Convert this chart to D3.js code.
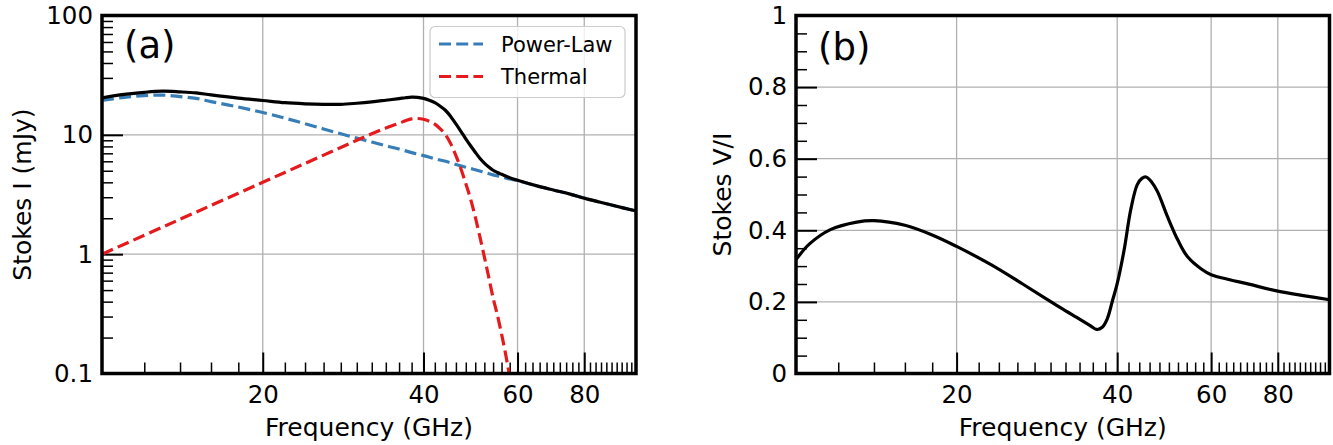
<!DOCTYPE html>
<html><head><meta charset="utf-8">
<script src="https://cdn.jsdelivr.net/npm/d3@7"></script>
<style>body{margin:0;background:#fff} text{font-family:"DejaVu Sans",sans-serif;fill:#000}</style>
</head><body><svg id="c" width="1333" height="445"></svg>
<script>
// ---------- data ----------
const plFreq = [10, 11, 12, 13, 14, 15, 16, 18, 20, 22, 24, 26, 28, 30, 32, 34, 36, 38, 40, 42, 44, 46, 48, 50, 52, 54, 56, 58, 60, 65, 70, 75, 80, 85, 90, 95, 100];
const powerLaw = [19.4, 20.6, 21.3, 21.5, 20.9, 20.2, 19.0, 17.1, 15.4, 13.8, 12.4, 11.2, 10.2, 9.4, 8.7, 8.1, 7.6, 7.1, 6.7, 6.3, 6.0, 5.65, 5.35, 5.1, 4.85, 4.62, 4.45, 4.27, 4.13, 3.75, 3.45, 3.2, 2.95, 2.75, 2.58, 2.43, 2.3];
const thFreq = [10, 12, 14, 16, 18, 20, 22, 24, 26, 28, 30, 32, 34, 36, 37, 38, 39, 40, 41, 42, 43, 44, 45, 46, 47, 48, 49, 50, 51, 52, 53, 54, 55, 56, 57, 58, 59];
const thermal = [1.0, 1.44, 1.96, 2.56, 3.24, 4.0, 4.84, 5.76, 6.76, 7.84, 9.0, 10.2, 11.4, 12.5, 13.1, 13.6, 13.7, 13.5, 13.0, 12.3, 11.2, 10.0, 8.4, 6.7, 5.2, 3.9, 2.9, 2.05, 1.4, 0.95, 0.64, 0.43, 0.31, 0.215, 0.145, 0.095, 0.062];
const totFreq = [10, 11, 12, 13, 14, 15, 16, 18, 20, 22, 24, 26, 28, 30, 32, 34, 36, 37, 38, 39, 40, 41, 42, 43, 44, 45, 46, 47, 48, 49, 50, 51, 52, 53, 54, 55, 56, 58, 60, 65, 70, 75, 80, 85, 90, 95, 100];
const total = [20.4, 21.8, 22.7, 23.2, 22.9, 22.45, 21.6, 20.3, 19.4, 18.6, 18.2, 18.0, 18.0, 18.4, 18.9, 19.5, 20.1, 20.45, 20.7, 20.6, 20.2, 19.5, 18.6, 17.35, 16.0, 14.2, 12.35, 10.7, 9.25, 8.1, 7.15, 6.37, 5.8, 5.37, 5.05, 4.84, 4.67, 4.37, 4.16, 3.75, 3.45, 3.2, 2.95, 2.75, 2.58, 2.43, 2.3];
const viFreq = [10, 10.6, 11.6, 13, 14, 16, 18, 20, 23.2, 26.6, 29.5, 31.3, 34, 35.6, 36.6, 37.5, 38.3, 39.2, 40, 41.2, 42.4, 43.6, 44.5, 45.3, 46.4, 47.6, 49.7, 52, 54.2, 57.5, 60, 65, 70, 80, 90, 100];
const vi = [0.318, 0.362, 0.402, 0.423, 0.427, 0.414, 0.387, 0.355, 0.304, 0.250, 0.208, 0.184, 0.152, 0.134, 0.123, 0.129, 0.152, 0.204, 0.251, 0.344, 0.457, 0.527, 0.545, 0.549, 0.535, 0.508, 0.438, 0.372, 0.326, 0.292, 0.276, 0.262, 0.251, 0.230, 0.217, 0.206];

const xMajor = [20, 40, 60, 80];
const xMajorLabels = ["20", "40", "60", "80"];
const yLogMajor = [0.1, 1, 10, 100];
const yLogLabels = ["0.1", "1", "10", "100"];
const yLinMajor = [0, 0.2, 0.4, 0.6, 0.8, 1];
const yLinLabels = ["0", "0.2", "0.4", "0.6", "0.8", "1"];
const legendNames = ["Power-Law", "Thermal"];
const colors = {pl: "#377eb8", th: "#e41a1c", tot: "#000"};

// ---------- drawing ----------
const svg = d3.select('#c');
const xMinor = d3.range(12, 100, 2).filter(v => !xMajor.includes(v));
const yLogMinor = [];
[0.1, 1, 10].forEach(d => { for (let k = 2; k <= 9; k++) yLogMinor.push(+(d * k).toPrecision(3)); });
const yLinMinor = d3.range(0, 21).map(i => +(i * 0.05).toFixed(2)).filter(v => !yLinMajor.some(m => Math.abs(m - v) < 1e-9));
const curve = d3.curveCatmullRom.alpha(0.5);

function panel(id, box, y, yMaj, yMajLab, yMin, ylabel, ylabOff, tag, tagY) {
  const x = d3.scaleLog().domain([10, 100]).range([box.l, box.r]);
  const g = svg.append('g');
  g.append('clipPath').attr('id', 'clip' + id).append('rect')
    .attr('x', box.l).attr('y', box.t).attr('width', box.r - box.l).attr('height', box.b - box.t);
  // grid
  g.append('g').selectAll('line').data(xMajor).join('line')
    .attr('x1', d => x(d)).attr('x2', d => x(d)).attr('y1', box.t).attr('y2', box.b)
    .attr('stroke', '#b0b0b0').attr('stroke-width', 1.3);
  g.append('g').selectAll('line').data(yMaj.filter(v => y(v) > box.t + 2 && y(v) < box.b - 2)).join('line')
    .attr('x1', box.l).attr('x2', box.r).attr('y1', d => y(d)).attr('y2', d => y(d))
    .attr('stroke', '#b0b0b0').attr('stroke-width', 1.3);
  // axes ticks
  const ax = (axis, t) => {
    const a = g.append('g').attr('transform', t).call(axis);
    a.select('.domain').remove();
    a.selectAll('text').style('font-family', '"DejaVu Sans",sans-serif').style('font-size', '24.5px').attr('fill', '#000');
    return a;
  };
  ax(d3.axisBottom(x).tickValues(xMinor).tickSize(-11).tickFormat(''), `translate(0,${box.b})`)
    .selectAll('line').attr('stroke-width', 1.5);
  ax(d3.axisBottom(x).tickValues(xMajor).tickSize(-21).tickPadding(12).tickFormat((d, i) => xMajorLabels[i]), `translate(0,${box.b})`)
    .selectAll('line').attr('stroke-width', 2);
  ax(d3.axisLeft(y).tickValues(yMin).tickSize(-11).tickFormat(''), `translate(${box.l},0)`)
    .selectAll('line').attr('stroke-width', 1.5);
  ax(d3.axisLeft(y).tickValues(yMaj).tickSize(-21).tickPadding(9).tickFormat((d, i) => yMajLab[i]), `translate(${box.l},0)`)
    .selectAll('line').attr('stroke-width', 2);
  // labels
  g.append('text').attr('x', (box.l + box.r) / 2).attr('y', 436).attr('text-anchor', 'middle')
    .style('font-size', '25px').text('Frequency (GHz)');
  g.append('text').attr('transform', `translate(${box.l - ylabOff},${(box.t + box.b) / 2}) rotate(-90)`)
    .attr('text-anchor', 'middle').style('font-size', '25px').text(ylabel);
  g.append('text').attr('x', box.l + 22).attr('y', tagY).style('font-size', '37px').text(tag);
  return {x, g, clip: 'url(#clip' + id + ')'};
}

// Panel (a)
const boxA = {l: 102, r: 636, t: 15.5, b: 373.5};
const yA = d3.scaleLog().domain([0.1, 100]).range([boxA.b, boxA.t]);
const pA = panel('a', boxA, yA, yLogMajor, yLogLabels, yLogMinor, 'Stokes I (mJy)', 71, '(a)', 58);
const lineA = (fs) => d3.line().x((d, i) => pA.x(fs[i])).y(d => yA(d)).curve(curve);
const lg = pA.g.append('g').attr('clip-path', pA.clip);
lg.append('path').attr('d', lineA(plFreq)(powerLaw)).attr('fill', 'none').attr('stroke', colors.pl)
  .attr('stroke-width', 3.2).attr('stroke-dasharray', '12,5.2');
lg.append('path').attr('d', lineA(thFreq)(thermal)).attr('fill', 'none').attr('stroke', colors.th)
  .attr('stroke-width', 3.2).attr('stroke-dasharray', '12,5.2');
lg.append('path').attr('d', lineA(totFreq)(total)).attr('fill', 'none').attr('stroke', colors.tot)
  .attr('stroke-width', 3.2);
pA.g.append('rect').attr('x', boxA.l).attr('y', boxA.t).attr('width', boxA.r - boxA.l).attr('height', boxA.b - boxA.t)
  .attr('fill', 'none').attr('stroke', '#000').attr('stroke-width', 3.5);
// legend
const leg = pA.g.append('g');
leg.append('rect').attr('x', 430).attr('y', 26.5).attr('width', 195).attr('height', 71).attr('rx', 5)
  .attr('fill', '#fff').attr('fill-opacity', 0.8).attr('stroke', '#cccccc').attr('stroke-width', 1.2);
[colors.pl, colors.th].forEach((c, i) => {
  const yy = 44 + i * 32.5;
  leg.append('line').attr('x1', 439).attr('x2', 483).attr('y1', yy).attr('y2', yy)
    .attr('stroke', c).attr('stroke-width', 3.2).attr('stroke-dasharray', '12,5.2');
  leg.append('text').attr('x', 501).attr('y', yy + 7.5).style('font-size', '21px').text(legendNames[i]);
});

// Panel (b)
const boxB = {l: 796, r: 1329.5, t: 15.5, b: 373.5};
const yB = d3.scaleLinear().domain([0, 1]).range([boxB.b, boxB.t]);
const pB = panel('b', boxB, yB, yLinMajor, yLinLabels, yLinMinor, 'Stokes V/I', 65, '(b)', 60);
pB.g.append('g').attr('clip-path', pB.clip).append('path')
  .attr('d', d3.line().x((d, i) => pB.x(viFreq[i])).y(d => yB(d)).curve(curve)(vi))
  .attr('fill', 'none').attr('stroke', '#000').attr('stroke-width', 3.2);
pB.g.append('rect').attr('x', boxB.l).attr('y', boxB.t).attr('width', boxB.r - boxB.l).attr('height', boxB.b - boxB.t)
  .attr('fill', 'none').attr('stroke', '#000').attr('stroke-width', 3.5);
</script></body></html>
